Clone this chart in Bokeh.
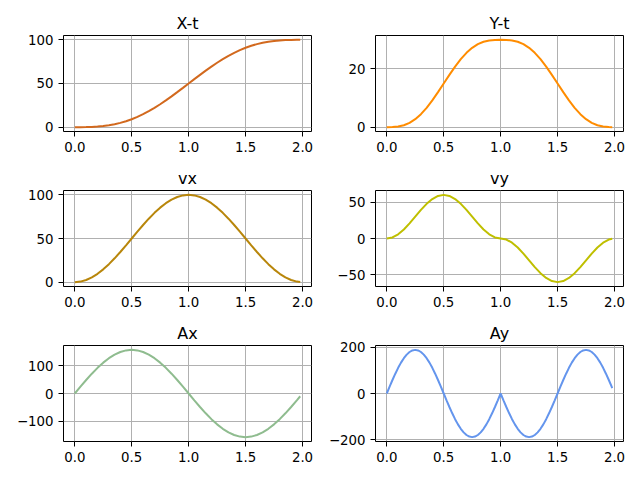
from bokeh.plotting import figure
from bokeh.layouts import column, row
from bokeh.models import Range1d, FixedTicker, PrintfTickFormatter, CustomJSTickFormatter
from bokeh.embed import file_html
from bokeh.resources import INLINE

t = [0.0, 0.05, 0.1, 0.15, 0.2, 0.25, 0.3, 0.35, 0.4, 0.45, 0.5, 0.55, 0.6, 0.65, 0.7, 0.75,
     0.8, 0.85, 0.9, 0.95, 1.0, 1.05, 1.1, 1.15, 1.2, 1.25, 1.3, 1.35, 1.4, 1.45, 1.5, 1.55,
     1.6, 1.65, 1.7, 1.75, 1.8, 1.85, 1.9, 1.95, 1.98]

t_fine = [0.0, 0.025, 0.05, 0.075, 0.1, 0.125, 0.15, 0.175, 0.2, 0.225, 0.25, 0.275, 0.3, 0.325,
          0.35, 0.375, 0.4, 0.425, 0.45, 0.475, 0.5, 0.525, 0.55, 0.575, 0.6, 0.625, 0.65, 0.675,
          0.7, 0.725, 0.75, 0.775, 0.8, 0.825, 0.85, 0.875, 0.9, 0.925, 0.95, 0.975, 1.0, 1.025,
          1.05, 1.075, 1.1, 1.125, 1.15, 1.175, 1.2, 1.225, 1.25, 1.275, 1.3, 1.325, 1.35, 1.375,
          1.4, 1.425, 1.45, 1.475, 1.5, 1.525, 1.55, 1.575, 1.6, 1.625, 1.65, 1.675, 1.7, 1.725,
          1.75, 1.775, 1.8, 1.825, 1.85, 1.875, 1.9, 1.925, 1.95, 1.975, 1.98]

x_pos = [0.0, 0.01, 0.082, 0.274, 0.645, 1.246, 2.124, 3.319, 4.863, 6.78, 9.085, 11.78, 14.863,
         18.319, 22.124, 26.246, 30.645, 35.274, 40.082, 45.01, 50.0, 54.99, 59.918, 64.726,
         69.355, 73.754, 77.876, 81.681, 85.137, 88.22, 90.915, 93.22, 95.137, 96.681, 97.876,
         98.754, 99.355, 99.726, 99.918, 99.99, 99.999]

y_pos = [0.0, 0.025, 0.194, 0.637, 1.459, 2.725, 4.459, 6.637, 9.194, 12.025, 15.0, 17.975,
         20.806, 23.363, 25.541, 27.275, 28.541, 29.363, 29.806, 29.975, 30.0, 29.975, 29.806,
         29.363, 28.541, 27.275, 25.541, 23.363, 20.806, 17.975, 15.0, 12.025, 9.194, 6.637,
         4.459, 2.725, 1.459, 0.637, 0.194, 0.025, 0.002]

vx = [0.0, 0.616, 2.447, 5.45, 9.549, 14.645, 20.611, 27.3, 34.549, 42.178, 50.0, 57.822, 65.451,
      72.7, 79.389, 85.355, 90.451, 94.55, 97.553, 99.384, 100.0, 99.384, 97.553, 94.55, 90.451,
      85.355, 79.389, 72.7, 65.451, 57.822, 50.0, 42.178, 34.549, 27.3, 20.611, 14.645, 9.549,
      5.45, 2.447, 0.616, 0.099]

vy = [0.0, 1.468, 5.729, 12.366, 20.729, 30.0, 39.271, 47.634, 54.271, 58.532, 60.0, 58.532,
      54.271, 47.634, 39.271, 30.0, 20.729, 12.366, 5.729, 1.468, 0.0, -1.468, -5.729, -12.366,
      -20.729, -30.0, -39.271, -47.634, -54.271, -58.532, -60.0, -58.532, -54.271, -47.634,
      -39.271, -30.0, -20.729, -12.366, -5.729, -1.468, -0.237]

ax = [0.0, 24.57, 48.54, 71.31, 92.33, 111.07, 127.08, 139.96, 149.39, 155.15, 157.08, 155.15,
      149.39, 139.96, 127.08, 111.07, 92.33, 71.31, 48.54, 24.57, 0.0, -24.57, -48.54, -71.31,
      -92.33, -111.07, -127.08, -139.96, -149.39, -155.15, -157.08, -155.15, -149.39, -139.96,
      -127.08, -111.07, -92.33, -71.31, -48.54, -24.57, -9.86]

ay = [0.0, 29.49, 58.25, 85.58, 110.8, 133.29, 152.5, 167.95, 179.27, 186.18, 188.5, 186.18,
      179.27, 167.95, 152.5, 133.29, 110.8, 85.58, 58.25, 29.49, 0.0, -29.49, -58.25, -85.58,
      -110.8, -133.29, -152.5, -167.95, -179.27, -186.18, -188.5, -186.18, -179.27, -167.95,
      -152.5, -133.29, -110.8, -85.58, -58.25, -29.49, 0.0, -29.49, -58.25, -85.58, -110.8,
      -133.29, -152.5, -167.95, -179.27, -186.18, -188.5, -186.18, -179.27, -167.95, -152.5,
      -133.29, -110.8, -85.58, -58.25, -29.49, 0.0, 29.49, 58.25, 85.58, 110.8, 133.29, 152.5,
      167.95, 179.27, 186.18, 188.5, 186.18, 179.27, 167.95, 152.5, 133.29, 110.8, 85.58, 58.25,
      29.49, 23.62]

titles = ["X-t", "Y-t", "vx", "vy", "Ax", "Ay"]
series = [x_pos, y_pos, vx, vy, ax, ay]
times = [t, t, t, t, t, t_fine]
colors = ["#D2691E", "#FF8C00", "#B8860B", "#BFBF00", "#8FBC8F", "#6495ED"]
x_ticks = [0.0, 0.5, 1.0, 1.5, 2.0]
y_ticks = [[0, 50, 100], [0, 20], [0, 50, 100], [-50, 0, 50], [-100, 0, 100], [-200, 0, 200]]

FONT = "DejaVu Sans"


def pad_range(vals):
    lo, hi = min(vals), max(vals)
    m = 0.05 * (hi - lo)
    return lo - m, hi + m


def make(i, height, top_border, bottom_border, left_border, right_border):
    p = figure(width=320, height=height, output_backend="svg", toolbar_location=None,
               min_border_left=left_border, min_border_right=right_border,
               min_border_top=top_border, min_border_bottom=bottom_border)
    x0, x1 = pad_range(times[i])
    y0, y1 = pad_range(series[i])
    p.x_range = Range1d(x0, x1)
    p.y_range = Range1d(y0, y1)
    p.line(times[i], series[i], line_color=colors[i], line_width=2)
    p.title.text = titles[i]
    p.title.align = "center"
    p.title.text_font = FONT
    p.title.text_font_size = "16px"
    p.title.text_font_style = "normal"
    p.title.text_color = "black"
    p.title.standoff = 6
    p.outline_line_color = "black"
    p.outline_line_width = 1
    p.outline_line_alpha = 1
    p.background_fill_color = "white"
    p.border_fill_color = "white"
    for a in (p.xaxis[0], p.yaxis[0]):
        a.axis_line_color = None
        a.major_tick_in = 0
        a.major_tick_out = 5
        a.major_tick_line_color = "black"
        a.major_tick_line_width = 1
        a.minor_tick_line_color = None
        a.major_label_text_font = FONT
        a.major_label_text_font_size = "13.33px"
        a.major_label_text_color = "black"
        a.major_label_standoff = 5
    p.xaxis[0].ticker = FixedTicker(ticks=x_ticks)
    p.xaxis[0].formatter = PrintfTickFormatter(format="%.1f")
    p.yaxis[0].ticker = FixedTicker(ticks=y_ticks[i])
    p.yaxis[0].formatter = CustomJSTickFormatter(
        code='return tick < 0 ? "\\u2212" + Math.abs(tick).toFixed(0) : tick.toFixed(0);')
    for g in (p.xgrid[0], p.ygrid[0]):
        g.grid_line_color = "#b0b0b0"
        g.grid_line_width = 1
    return p


heights = [160, 155, 165]
tops = [35, 30, 30]
bottoms = [29, 29, 39]
rows = []
for r in range(3):
    left = make(2 * r, heights[r], tops[r], bottoms[r], 63, 9)
    right = make(2 * r + 1, heights[r], tops[r], bottoms[r], 55, 17)
    rows.append(row(left, right, spacing=0))
layout = column(*rows, spacing=0)

open("out.html", "w").write(file_html(layout, INLINE))
